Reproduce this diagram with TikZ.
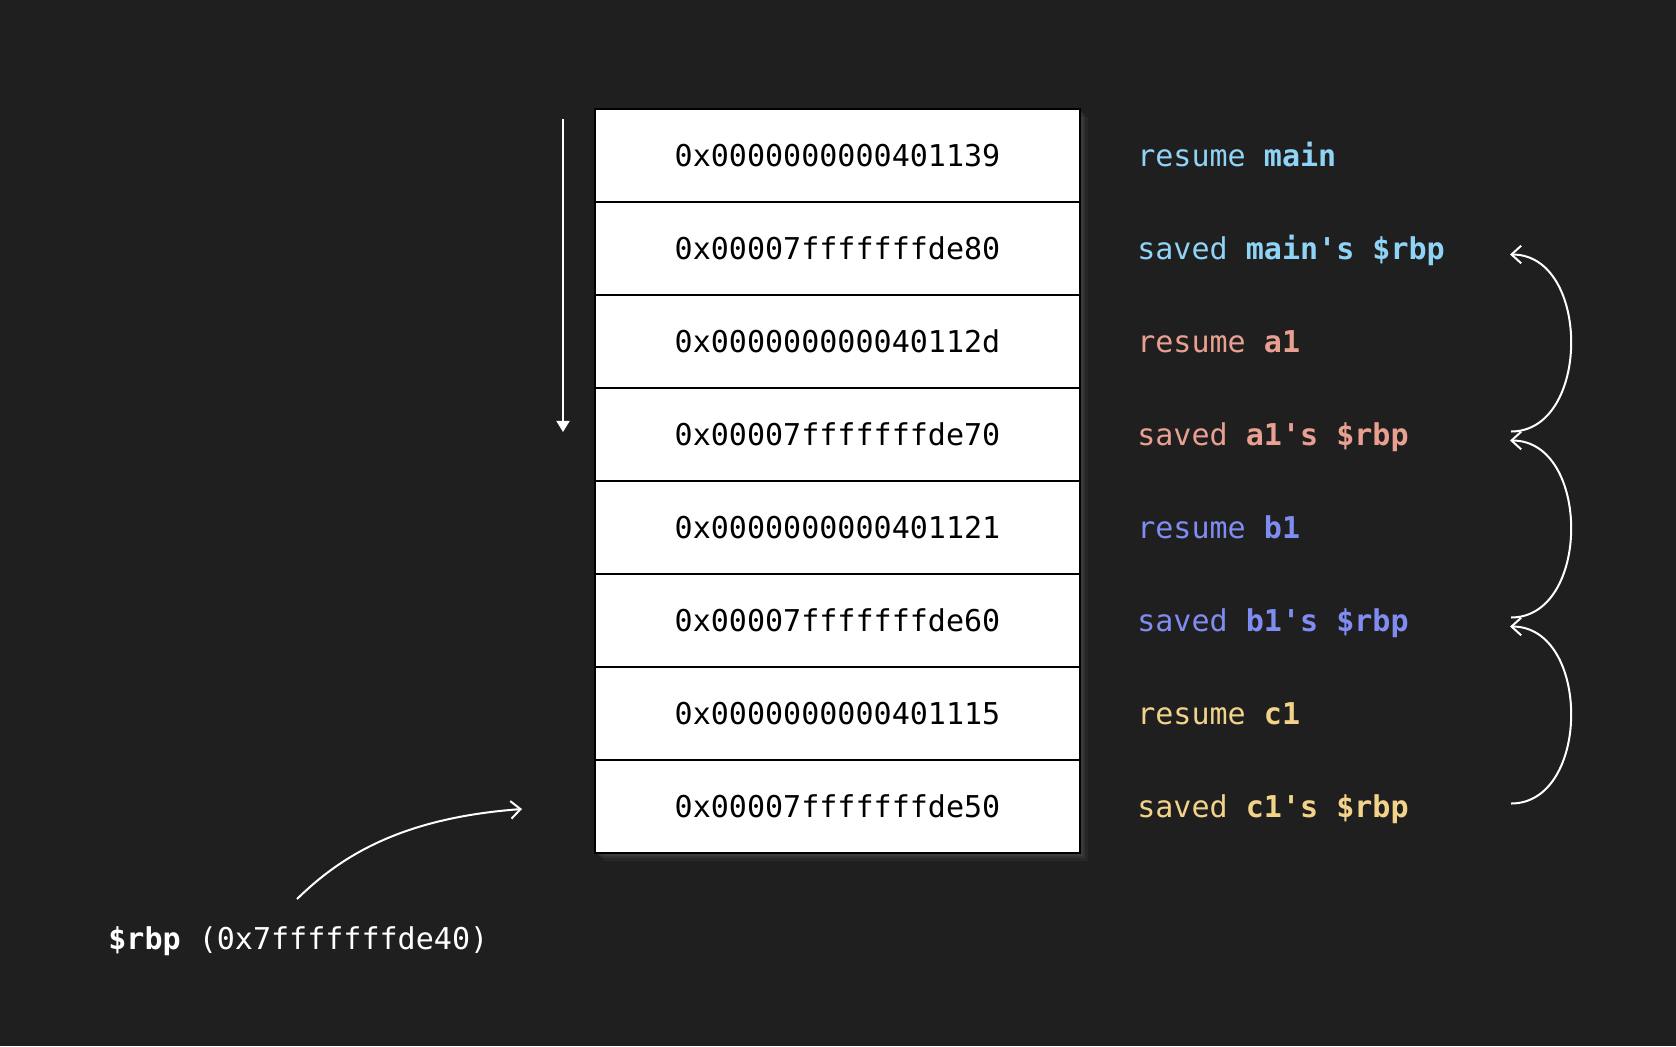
\documentclass[tikz,border=0pt]{standalone}
\usepackage{fontspec}
\setmonofont{DejaVu Sans Mono}
\usepackage{tikz}
\usetikzlibrary{positioning,shadows,arrows.meta}

\definecolor{bgdark}{HTML}{1F1F1F}
\definecolor{maincol}{HTML}{8FD4F7}
\definecolor{acol}{HTML}{E9A091}
\definecolor{bcol}{HTML}{7F8DF2}
\definecolor{ccol}{HTML}{F2D389}

\tikzset{
    cell/.style={draw=black, fill=white, line width=0.05cm, minimum width=9.7cm, minimum height=1.86cm,
        outer sep=0pt, inner sep=0pt, text height=15.5pt, text depth=3pt, text=black},
    lbl/.style={inner sep=0pt, text height=15.5pt, text depth=3pt},
    link/.style={draw=white, line width=0.04cm, -{Straight Barb[length=5.5pt,width=10pt]}},
}

\begin{document}
\begin{tikzpicture}[x=0.02cm, y=-0.02cm, font=\ttfamily\fontsize{17.1}{20}\selectfont]
    \fill[bgdark] (0,0) rectangle (1676,1046);

    % the stack
    \node[minimum width=9.7cm, minimum height=14.88cm, outer sep=0pt, fill=bgdark,
        drop shadow={fill=white, opacity=0.05, shadow xshift=1.5pt, shadow yshift=-1.5pt},
        drop shadow={fill=white, opacity=0.05, shadow xshift=3pt, shadow yshift=-3pt},
        drop shadow={fill=white, opacity=0.04, shadow xshift=4.5pt, shadow yshift=-4.5pt}] (stack) at (837.5,481) {};
    \node[cell, below=0pt of stack.north] (r1) {0x0000000000401139};
    \node[cell, below=0pt of r1] (r2) {0x00007fffffffde80};
    \node[cell, below=0pt of r2] (r3) {0x000000000040112d};
    \node[cell, below=0pt of r3] (r4) {0x00007fffffffde70};
    \node[cell, below=0pt of r4] (r5) {0x0000000000401121};
    \node[cell, below=0pt of r5] (r6) {0x00007fffffffde60};
    \node[cell, below=0pt of r6] (r7) {0x0000000000401115};
    \node[cell, below=0pt of r7] (r8) {0x00007fffffffde50};

    % labels
    \node[lbl, right=1.14cm of r1, text=maincol] (l1) {resume \textbf{main}};
    \node[lbl, right=1.14cm of r2, text=maincol] (l2) {saved \textbf{main's \$rbp}};
    \node[lbl, right=1.14cm of r3, text=acol] (l3) {resume \textbf{a1}};
    \node[lbl, right=1.14cm of r4, text=acol] (l4) {saved \textbf{a1's \$rbp}};
    \node[lbl, right=1.14cm of r5, text=bcol] (l5) {resume \textbf{b1}};
    \node[lbl, right=1.14cm of r6, text=bcol] (l6) {saved \textbf{b1's \$rbp}};
    \node[lbl, right=1.14cm of r7, text=ccol] (l7) {resume \textbf{c1}};
    \node[lbl, right=1.14cm of r8, text=ccol] (l8) {saved \textbf{c1's \$rbp}};

    % growth direction
    \coordinate (growtop) at (563,119);
    \coordinate (growbot) at (563,432);
    \draw[white, line width=0.04cm, -{Triangle[length=6.3pt,width=7.4pt]}] (growtop) -- (growbot);

    % chain of saved frame pointers
    \coordinate (t2) at (1510,254.5);
    \coordinate (e4) at (1511,431.5);
    \coordinate (t4) at (1510,440.5);
    \coordinate (e6) at (1511,617.5);
    \coordinate (t6) at (1510,626.5);
    \coordinate (e8) at (1511,803.5);
    \draw[link] (e4) .. controls (1591,431.5) and (1591,254.5) .. (t2);
    \draw[link] (e6) .. controls (1591,617.5) and (1591,440.5) .. (t4);
    \draw[link] (e8) .. controls (1591,803.5) and (1591,626.5) .. (t6);

    % current rbp
    \node[anchor=base west, inner sep=0pt, text=white] (rbp) at (108,949) {\textbf{\$rbp} (0x7fffffffde40)};
    \coordinate (rbpfrom) at (297,899);
    \coordinate (rbpto) at (522,809);
    \draw[link] (rbpfrom) .. controls (340,857) and (400,818) .. (rbpto);
\end{tikzpicture}
\end{document}
